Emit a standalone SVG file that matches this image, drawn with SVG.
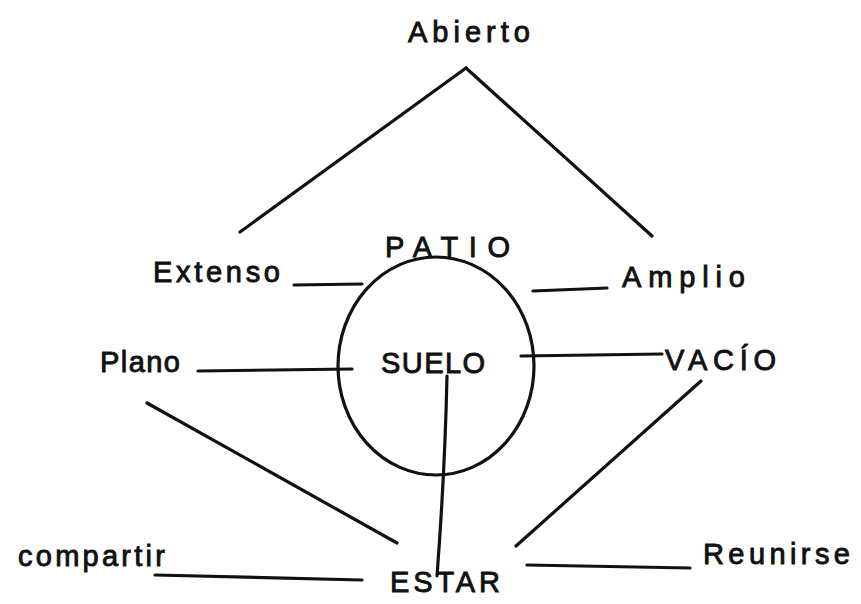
<svg xmlns="http://www.w3.org/2000/svg" width="861" height="604" viewBox="0 0 861 604">
<style>
.t{font-family:"Liberation Sans","DejaVu Sans",sans-serif;font-size:29px;fill:#111;stroke:#111;stroke-width:0.9;}
.l{stroke:#111;stroke-width:3.2;stroke-linecap:round;fill:none;}
</style>
<rect width="861" height="604" fill="#fff"/>
<g id="connectors">
<path class="l" d="M466 68 L240 232"/>
<path class="l" d="M466 68 L652 236"/>
<path class="l" d="M294 285 L362 284"/>
<path class="l" d="M533 291 L607 288"/>
<path class="l" d="M198 371 L352 369"/>
<path class="l" d="M521 356 L662 354"/>
<path class="l" d="M447 376 Q445 470 437 576"/>
<path class="l" d="M147 403 L397 543"/>
<path class="l" d="M701 381 L516 546"/>
<path class="l" d="M155 575 L362 580"/>
<path class="l" d="M527 565 L690 568"/>
</g>
<g id="patio"><ellipse class="l" cx="436" cy="366" rx="98" ry="109"/><text class="t" x="385" y="257" textLength="125" lengthAdjust="spacing">PATIO</text></g>
<g id="abierto"><text class="t" x="408" y="42" textLength="122" lengthAdjust="spacing">Abierto</text></g>
<g id="extenso"><text class="t" x="153" y="282" textLength="127" lengthAdjust="spacing">Extenso</text></g>
<g id="amplio"><text class="t" x="622" y="287" textLength="123" lengthAdjust="spacing">Amplio</text></g>
<g id="plano"><text class="t" x="100" y="372" textLength="80" lengthAdjust="spacing">Plano</text></g>
<g id="suelo"><text class="t" x="381" y="373" textLength="104" lengthAdjust="spacing">SUELO</text></g>
<g id="vacio"><text class="t" x="665" y="370" textLength="111" lengthAdjust="spacing">VACÍO</text></g>
<g id="compartir"><text class="t" x="18" y="566" textLength="147" lengthAdjust="spacing">compartir</text></g>
<g id="estar"><text class="t" x="390" y="592" textLength="110" lengthAdjust="spacing">ESTAR</text></g>
<g id="reunirse"><text class="t" x="703" y="564" textLength="147" lengthAdjust="spacing">Reunirse</text></g>
</svg>
